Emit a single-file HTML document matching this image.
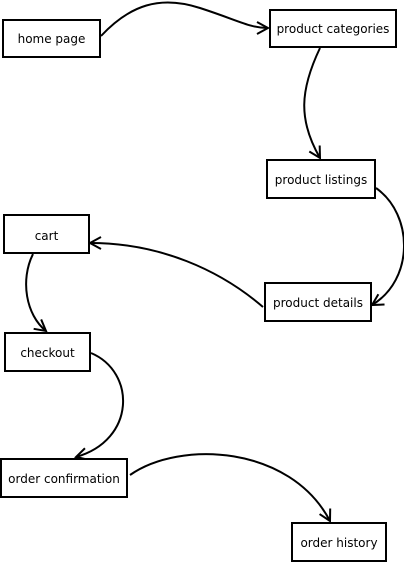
<!DOCTYPE html>
<html><head><style>
html,body{margin:0;padding:0;background:#fff;}
svg{display:block;}
</style></head><body>
<svg width="404" height="562" viewBox="0 0 404 562" xmlns="http://www.w3.org/2000/svg">
<defs>
<marker id="a" markerWidth="16" markerHeight="16" refX="13" refY="8" orient="auto" markerUnits="userSpaceOnUse">
<path d="M2,2 L13,8 L2,14" fill="none" stroke="#000" stroke-width="2"/>
</marker>
</defs>
<g fill="none" stroke="#000" stroke-width="2" marker-end="url(#a)">
<path d="M101,36 C130,5 160,-5 200,8 S250,28 268,28"/>
<path d="M320,48 C300,90 298,120 320,158"/>
<path d="M376,188 C414,215 414,280 372,305"/>
<path d="M263,307 C220,270 160,243 90,243"/>
<path d="M33,254 C20,280 26,315 46,331"/>
<path d="M91,353 C136,372 136,440 76,457"/>
<path d="M130,475 C180,440 290,445 330,521"/>
</g>
<g fill="#fff" stroke="#000" stroke-width="2">
<rect x="3" y="20" width="97" height="37"/>
<rect x="270" y="10" width="126" height="37"/>
<rect x="267" y="160" width="108" height="38"/>
<rect x="4" y="215" width="85" height="38"/>
<rect x="265" y="283" width="106" height="38"/>
<rect x="5" y="333" width="85" height="38"/>
<rect x="1" y="459" width="126" height="38"/>
<rect x="292" y="523" width="94" height="38"/>
</g>
<g text-anchor="middle" font-family="DejaVu Sans, Liberation Sans, sans-serif" font-size="12" fill="#000">
<text x="51.5" y="43" font-size="12">home page</text>
<text x="333" y="33" font-size="12">product categories</text>
<text x="321" y="184" font-size="12">product listings</text>
<text x="46.5" y="240" font-size="12">cart</text>
<text x="318" y="307" font-size="12">product details</text>
<text x="47.5" y="357" font-size="12">checkout</text>
<text x="64" y="483" font-size="12">order confirmation</text>
<text x="339" y="547" font-size="12">order history</text>
</g>
</svg>
</body></html>
